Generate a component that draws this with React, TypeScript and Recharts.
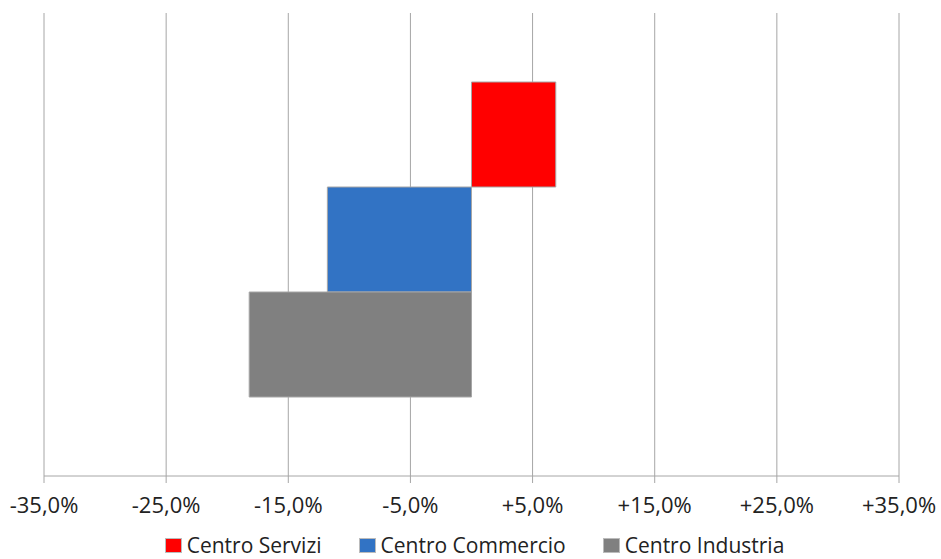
import React from 'react';
import { BarChart, Bar, XAxis, YAxis, CartesianGrid, Legend } from 'recharts';

// --- Data ---
const SERIES_NAMES = ['Centro Servizi', 'Centro Commercio', 'Centro Industria'];
const SERIES_KEYS = ['servizi', 'commercio', 'industria'];
const SERIES_VALUES = [6.9, -11.8, -18.2];
const SERIES_COLORS = ['#ff0000', '#3273c4', '#808080'];
const X_TICKS = [-35, -25, -15, -5, 5, 15, 25, 35];

const FONT = '"Open Sans", sans-serif';
const GRID = '#a6a6a6';

const row: Record<string, any> = { name: 'Centro' };
SERIES_KEYS.forEach((k, i) => {
  row[k] = SERIES_VALUES[i];
});
const data = [row];

const fmt = (v: number) => (v > 0 ? '+' : '') + v.toFixed(1).replace('.', ',') + '%';

// --- Custom Legend (keeps series order) ---
const LegendContent = () => (
  <div style={{ display: 'flex', justifyContent: 'center', fontFamily: FONT, fontSize: 21, lineHeight: '22px', color: '#222', paddingTop: 3, marginLeft: 6 }}>
    {SERIES_NAMES.map((name, i) => (
      <div key={name} style={{ display: 'flex', alignItems: 'center', marginRight: i < 2 ? 37 : 0 }}>
        <span style={{ width: 15, height: 13, background: SERIES_COLORS[i], border: '1px solid #bbb', marginRight: 5, display: 'inline-block' }} />
        <span>{name}</span>
      </div>
    ))}
  </div>
);

export default function App() {
  return (
    <div style={{ position: 'absolute', left: 0, top: 0, background: '#fff' }}>
      <BarChart
        width={941}
        height={559}
        layout="vertical"
        data={data}
        barGap={0}
        barSize={105}
        margin={{ top: 13, right: 42, left: 44, bottom: 0 }}
      >
        <CartesianGrid horizontal={false} vertical={true} stroke={GRID} />
        <XAxis
          type="number"
          domain={[-35, 35]}
          ticks={X_TICKS}
          tickFormatter={fmt}
          interval={0}
          height={55}
          stroke={GRID}
          tickSize={7}
          tickMargin={14}
          tick={{ fill: '#222', fontSize: 22, fontFamily: FONT }}
        />
        <YAxis type="category" dataKey="name" hide padding={{ top: 0, bottom: 10 }} />
        <Legend verticalAlign="bottom" height={28} content={<LegendContent />} />
        {SERIES_KEYS.map((k, i) => (
          <Bar
            key={k}
            dataKey={k}
            name={SERIES_NAMES[i]}
            fill={SERIES_COLORS[i]}
            stroke={GRID}
            strokeWidth={1}
            isAnimationActive={false}
          />
        ))}
      </BarChart>
    </div>
  );
}
